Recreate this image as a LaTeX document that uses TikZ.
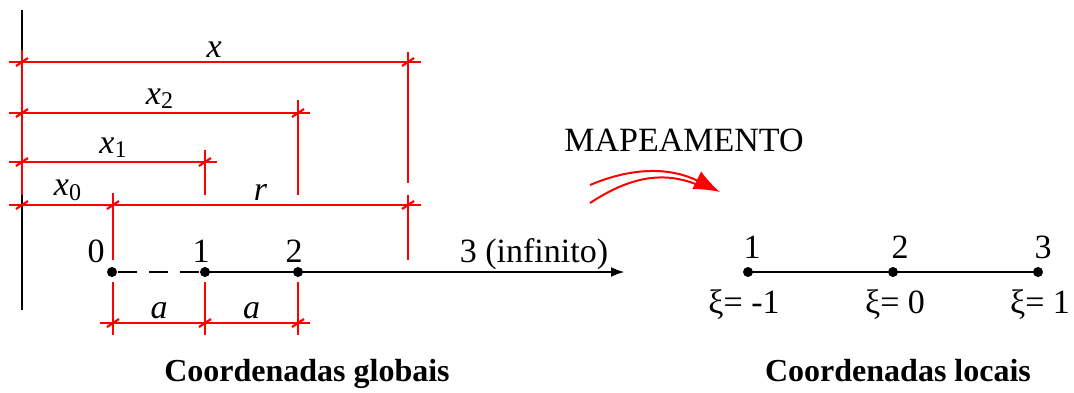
\documentclass[tikz,border=0pt]{standalone}
\usepackage{fontspec}
\setmainfont{Liberation Serif}
\usetikzlibrary{arrows.meta, calc}
\newcommand{\dsub}[1]{\raisebox{-0.3ex}{\fontsize{12}{12}\selectfont #1}}

\begin{document}
\begin{tikzpicture}[
    x=0.5pt, y=-0.5pt,
    every node/.style={font=\fontsize{17}{20}\selectfont, inner sep=0pt, text=black},
    dimline/.style={red, line width=1.1pt},
    extline/.style={red, line width=1.2pt},
    axisline/.style={black, line width=1.4pt},
    dot/.style={circle, fill=black, minimum size=5pt, inner sep=0pt},
    numlbl/.style={anchor=base},
    dimlbl/.style={midway, above, inner sep=1.5pt},
    caption/.style={font=\fontsize{16}{19}\selectfont\bfseries, anchor=base}
]
\useasboundingbox (0,0) rectangle (1074,392);

% vertical reference axis
\draw[black, line width=1.1pt] (22,10) -- (22,310);
\draw[extline] (22,50) -- (22,195);

% extension lines
\draw[extline] (408,52) -- (408,183);
\draw[extline] (408,195) -- (408,260);
\draw[extline] (298,100) -- (298,195);
\draw[extline] (205,150) -- (205,195);
\draw[extline] (113,193) -- (113,260);
\foreach \xx in {113,205,298}
  \draw[extline] (\xx,282) -- (\xx,335);

% dimension lines
\draw[dimline] (9,62) -- (421,62) node[dimlbl, pos=0.498] {\textit{x}};
\draw[dimline] (9,113) -- (310,113) node[dimlbl, pos=0.5] {\textit{x}\dsub{2}};
\draw[dimline] (9,162) -- (217,162) node[dimlbl, pos=0.5] {\textit{x}\dsub{1}};
\draw[dimline] (9,205) -- (421,205);
\draw[dimline] (22,205) -- (113,205) node[dimlbl] {\textit{x}\dsub{0}};
\draw[dimline] (113,205) -- (408,205) node[dimlbl] {\textit{r}};
\draw[dimline] (100,323) -- (310,323);
\draw[dimline] (113,323) -- (205,323) node[dimlbl] {\textit{a}};
\draw[dimline] (205,323) -- (298,323) node[dimlbl] {\textit{a}};

% ticks
\foreach \px/\py in {22/62, 408/62, 22/113, 298/113, 22/162, 205/162,
                     22/205, 113/205, 408/205, 113/323, 205/323, 298/323}
  \draw[dimline] (\px-6,\py+4) -- (\px+6,\py-4);

% global coordinates
\coordinate (gend) at (625,272);
\node[dot] (g0) at (112,272) {};
\node[dot] (g1) at (205,272) {};
\node[dot] (g2) at (298,272) {};
\draw[axisline, dash pattern=on 9.7pt off 5.8pt] ([xshift=3pt]g0.center) -- (g1.center);
\draw[axisline, -{Latex[length=7pt,width=5pt]}] (g1.center) -- (gend);
\node[numlbl] (n0) at (96,262) {0};
\node[numlbl] (n1) at (201,262) {1};
\node[numlbl] (n2) at (294,262) {2};
\node[numlbl] (n3) at (534,262) {3 (infinito)};

% mapping
\node[numlbl] (map) at (684,151) {MAPEAMENTO};
\coordinate (ma) at (590,185);
\coordinate (mb) at (590,203);
\coordinate (mtip) at (720,192);
\coordinate (mjoin) at (698,185);
\draw[red, line width=1pt, -{Latex[length=13pt,width=10pt]}] (ma) .. controls (635,166) and (672,168) .. (mtip);
\draw[red, line width=1pt] (mb) .. controls (628,178) and (662,170) .. (mjoin);

% local coordinates
\node[dot] (l1) at (748,272) {};
\node[dot] (l2) at (893,272) {};
\node[dot] (l3) at (1038,272) {};
\draw[axisline] (l1.center) -- (l2.center) -- (l3.center);
\node[numlbl] (k1) at (752,258) {1};
\node[numlbl] (k2) at (900,258) {2};
\node[numlbl] (k3) at (1043,258) {3};
\node[numlbl] (xi1) at (744,313) {ξ= -1};
\node[numlbl] (xi2) at (895,313) {ξ= 0};
\node[numlbl] (xi3) at (1040,313) {ξ= 1};

% captions
\node[caption] (capg) at (307,381) {Coordenadas globais};
\node[caption] (capl) at (898,381) {Coordenadas locais};
\end{tikzpicture}
\end{document}
